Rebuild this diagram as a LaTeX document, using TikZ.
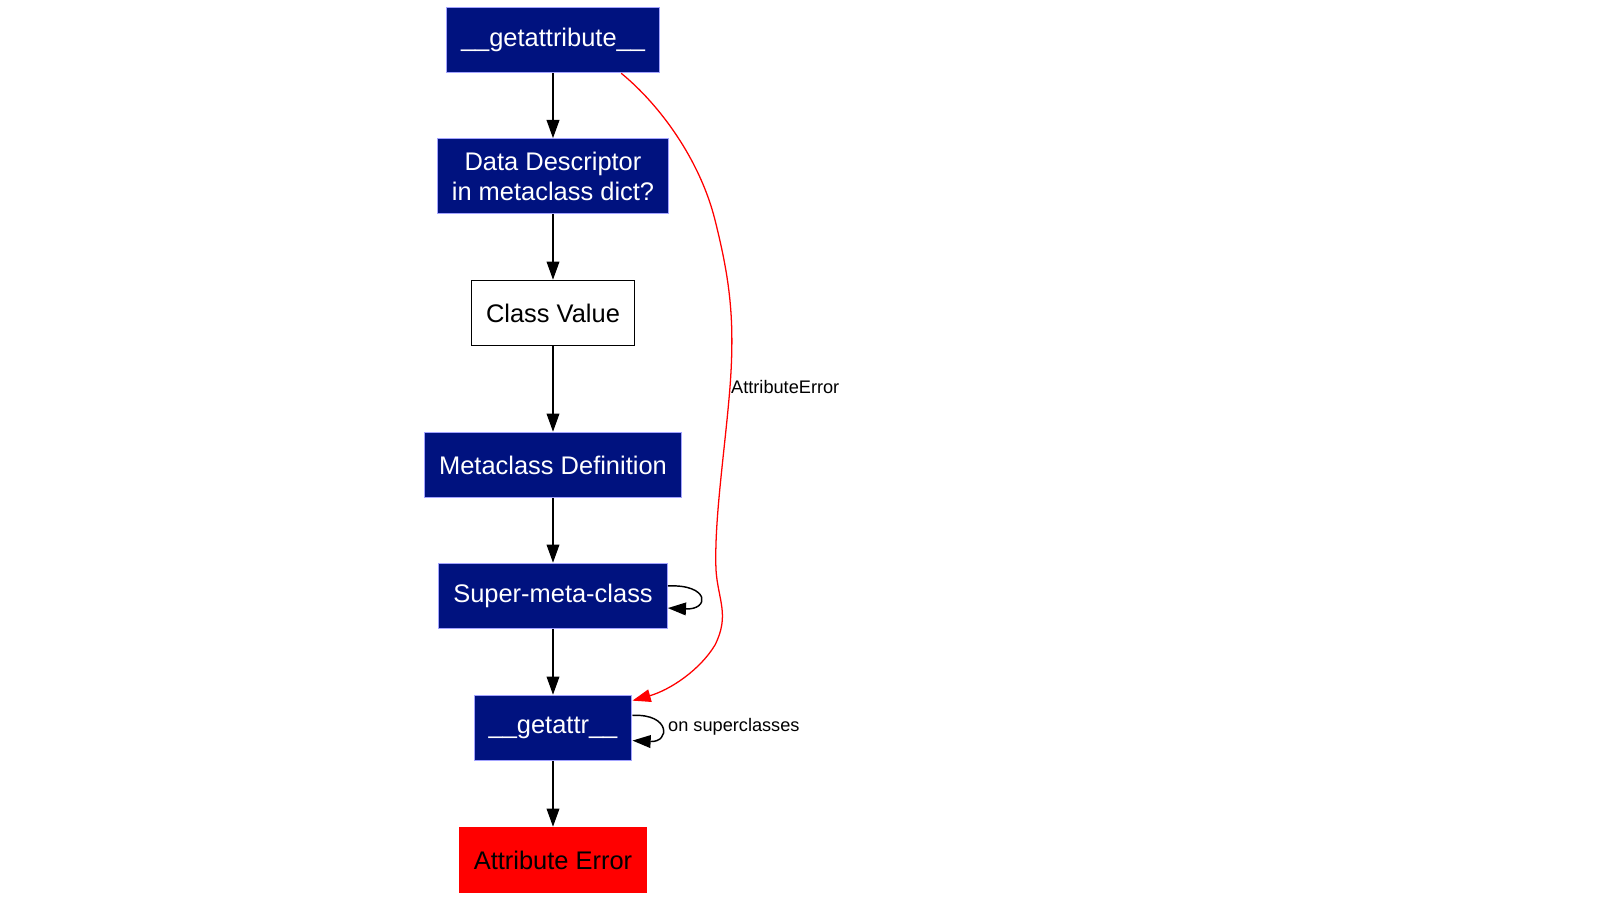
\documentclass[tikz,border=0pt]{standalone}
\usepackage{fontspec}
\setmainfont{Liberation Sans}
\usetikzlibrary{arrows.meta}
\definecolor{navybox}{HTML}{00127F}
\definecolor{navyedge}{HTML}{A3A3FF}

\begin{document}
\begin{tikzpicture}[x=0.55pt,y=-0.55pt,>={Triangle[length=10pt,width=7pt]},
  box/.style={draw=navyedge,line width=0.6pt,fill=navybox,text=white,minimum height=36pt,inner xsep=8pt,font=\fontsize{14pt}{16.5pt}\selectfont,align=center},
  plainbox/.style={box,draw=black,fill=white,text=black},
  errbox/.style={box,draw=red,fill=red,text=black},
  lbl/.style={font=\fontsize{10pt}{12pt}\selectfont,inner sep=1pt},
  edge/.style={->,line width=0.8pt}]
\useasboundingbox (0,0) rectangle (1600,900);
\node[box,minimum width=116pt] (get) at (553,40) {\_\_getattribute\_\_};
\node[box,minimum height=41pt] (dd) at (553,176) {Data Descriptor\\in metaclass dict?};
\node[plainbox] (cv) at (553,313) {Class Value};
\node[box] (md) at (553,465) {Metaclass Definition};
\node[box] (smc) at (553,596) {Super-meta-class};
\node[box] (gattr) at (553,728) {\_\_getattr\_\_};
\node[errbox] (err) at (553,860) {Attribute Error};
\draw[edge] (get) -- (dd);
\draw[edge] (dd) -- (cv);
\draw[edge] (cv) -- (md);
\draw[edge] (md) -- (smc);
\draw[edge] (smc) -- (gattr);
\draw[edge] (gattr) -- (err);
\draw[edge] (smc.5.5) .. controls +(42,-2) and +(42,2) .. (smc.-6);
\draw[edge] (gattr.9) .. controls +(38,-2) and +(38,2) .. (gattr.-9);
\node[lbl,anchor=west] (suplbl) at (666,727) {on superclasses};
\draw[edge,red,line width=0.7pt] (get.-26) .. controls (660,105) and (700,160) .. (715,220) .. controls (730,280) and (735,320) .. (730,387) .. controls (725,450) and (714,520) .. (716,570) .. controls (718,600) and (730,615) .. (715,645) .. controls (700,670) and (670,690) .. (gattr.19);
\node[lbl,anchor=west] (errlbl) at (729,387) {AttributeError};
\end{tikzpicture}
\end{document}
